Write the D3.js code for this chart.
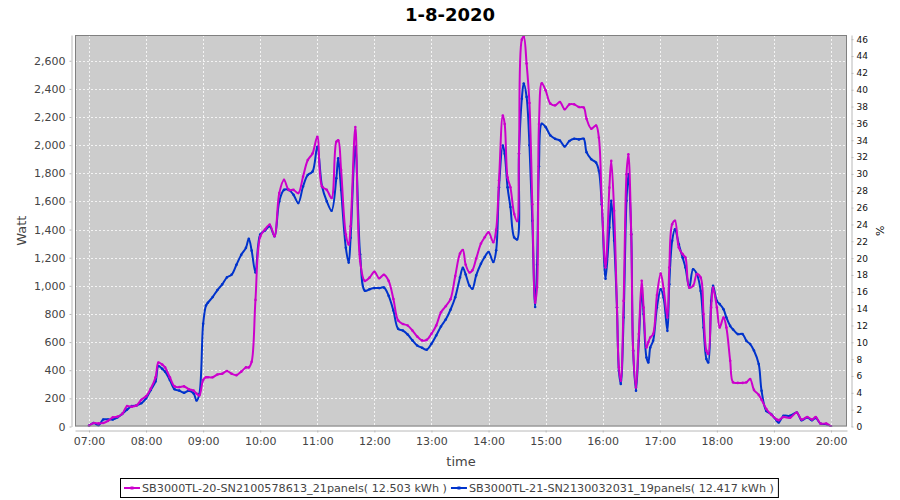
<!DOCTYPE html>
<html>
<head>
<meta charset="utf-8">
<script src="https://cdn.jsdelivr.net/npm/d3@7"></script>
<style>
  body { margin: 0; background: #fff; }
  text { font-family: "DejaVu Sans", sans-serif; }
</style>
</head>
<body>
<svg id="chart" width="900" height="500"></svg>
<script>
// ---- data ----
var chartTitle = "1-8-2020";
var seriesNames = ["SB3000TL-20-SN2100578613_21panels( 12.503 kWh )",
                   "SB3000TL-21-SN2130032031_19panels( 12.417 kWh )"];
var times = ["07:00","07:05","07:10","07:15","07:20","07:25","07:30","07:35","07:40","07:45","07:50","07:55",
  "08:00","08:05","08:10","08:13","08:17","08:20","08:25","08:30","08:35","08:40","08:45","08:50","08:53","08:56",
  "09:00","09:03","09:05","09:10","09:15","09:20","09:25","09:30","09:35","09:40","09:45","09:48","09:51","09:55",
  "10:00","10:05","10:10","10:15","10:20","10:25","10:30","10:35","10:40","10:45","10:50","10:55",
  "11:00","11:05","11:10","11:15","11:20","11:22","11:25","11:30","11:33","11:35","11:40","11:45","11:50","11:55",
  "12:00","12:05","12:10","12:15","12:20","12:25","12:30","12:35","12:40","12:45","12:50","12:55",
  "13:00","13:05","13:10","13:15","13:20","13:25","13:30","13:33","13:36","13:40","13:43","13:47","13:52","13:56",
  "14:00","14:05","14:08","14:11","14:15","14:17","14:20","14:23","14:27","14:30","14:32","14:35","14:37","14:40",
  "14:43","14:46","14:49","14:51","14:53","14:56",
  "15:00","15:05","15:10","15:15","15:20","15:25","15:30","15:35","15:40","15:43","15:48","15:53","15:56","15:59",
  "16:03","16:07","16:09","16:12","16:15","16:17","16:19","16:22","16:25","16:27","16:30","16:32","16:35","16:38",
  "16:41","16:43","16:46","16:48","16:50","16:53","16:57",
  "17:01","17:04","17:08","17:10","17:13","17:16","17:20","17:24","17:27","17:31","17:35","17:39","17:43","17:46",
  "17:49","17:51","17:54","17:56",
  "18:00","18:03","18:07","18:10","18:14","18:17","18:22","18:27","18:31","18:35","18:39","18:44","18:47","18:52","18:57",
  "19:03","19:05","19:10","19:17","19:24","19:29","19:35","19:40","19:44","19:49","19:55","20:00"];
var wattA = [5,25,22,25,40,65,70,90,145,140,150,190,
  215,270,350,455,440,420,350,285,280,285,265,255,235,220,
  330,350,350,350,370,375,395,375,365,390,420,420,460,900,
  1350,1400,1435,1353,1659,1753,1682,1682,1659,1776,1894,1941,
  2059,1706,1682,1624,2024,2035,1824,1365,1294,1424,2129,1176,1035,1059,
  1100,1054,1078,1035,906,753,729,718,682,640,612,616,
  659,718,812,855,905,1070,1230,1255,1150,1095,1110,1193,1300,1345,
  1380,1310,1400,1750,2210,2150,1770,1700,1510,1460,1940,2750,2770,2580,
  2300,1580,880,990,2150,2440,
  2390,2295,2283,2307,2255,2290,2290,2271,2267,2188,2117,2140,2053,1604,
  1130,1698,1888,1533,846,420,325,893,1793,1935,1367,538,278,657,
  1036,846,562,600,633,657,934,
  1088,981,775,1130,1438,1462,1272,1225,1201,988,1000,1083,1059,799,
  538,515,846,988,
  846,704,775,704,467,314,310,310,314,337,260,225,190,124,85,
  50,45,67,62,100,50,67,50,67,21,21,0];
var wattB = [5,25,8,50,50,50,65,90,120,145,150,165,
  200,260,320,430,410,390,330,265,255,240,255,235,185,230,
  730,860,880,920,970,1010,1060,1080,1150,1220,1270,1335,1250,1095,
  1365,1393,1424,1353,1600,1682,1682,1647,1588,1706,1788,1812,
  1988,1706,1600,1534,1765,1906,1682,1270,1165,1341,1988,1224,965,976,
  984,984,988,929,824,694,682,654,612,576,560,546,
  588,647,711,760,830,919,1060,1129,1080,1000,979,1074,1157,1205,
  1240,1169,1252,1700,1998,1938,1700,1560,1343,1330,1938,2330,2438,2343,
  2000,1462,850,1150,1850,2152,
  2129,2069,2045,2033,1990,2030,2045,2041,2045,1950,1900,1876,1817,1580,
  1050,1414,1604,1320,846,396,302,775,1604,1793,1367,538,254,609,
  964,799,491,455,562,609,846,
  976,917,680,1012,1320,1402,1296,1201,1130,988,1118,1083,964,704,
  480,455,893,1000,
  893,870,834,775,715,690,657,657,609,586,540,444,254,110,88,
  40,29,76,76,100,45,64,45,60,21,17,0];
var hourTicks = ["07:00","08:00","09:00","10:00","11:00","12:00","13:00","14:00",
                 "15:00","16:00","17:00","18:00","19:00","20:00"];
var wattTicks = [0,200,400,600,800,1000,1200,1400,1600,1800,2000,2200,2400,2600];
var pctTicks = d3.range(0, 47, 2);
var colors = ["#cc00cc", "#0033cc"];

// ---- layout ----
var svg = d3.select("#chart");
var plot = {left: 75, right: 847, top: 35, bottom: 426.5};

function toMin(s) { var p = s.split(":"); return (+p[0]) * 60 + (+p[1]); }

var x = d3.scaleLinear().domain([405.3, 1216.8]).range([plot.left, plot.right]);
var y = d3.scaleLinear().domain([0, 2783]).range([plot.bottom, plot.top]);
var yPct = d3.scaleLinear().domain([0, 46.5]).range([plot.bottom, plot.top]);

// plot background
svg.append("rect")
  .attr("x", plot.left).attr("y", plot.top)
  .attr("width", plot.right - plot.left).attr("height", plot.bottom - plot.top)
  .attr("fill", "#cccccc");

// grid
var grid = svg.append("g").attr("stroke", "#f4f4f4").attr("stroke-width", 1)
  .attr("stroke-dasharray", "2,2");
grid.selectAll("line.v").data(hourTicks).enter().append("line")
  .attr("x1", function(d){ return Math.round(x(toMin(d))) + 0.5; })
  .attr("x2", function(d){ return Math.round(x(toMin(d))) + 0.5; })
  .attr("y1", plot.top).attr("y2", plot.bottom);
grid.selectAll("line.h").data(wattTicks.slice(1)).enter().append("line")
  .attr("x1", plot.left).attr("x2", plot.right)
  .attr("y1", function(d){ return Math.round(y(d)) + 0.5; })
  .attr("y2", function(d){ return Math.round(y(d)) + 0.5; });

// lines
svg.append("clipPath").attr("id", "clip").append("rect")
  .attr("x", plot.left).attr("y", plot.top)
  .attr("width", plot.right - plot.left).attr("height", plot.bottom - plot.top);

var line = d3.line()
  .x(function(d){ return x(d.t); })
  .y(function(d){ return y(d.w); })
  .curve(d3.curveCatmullRom.alpha(0.5));

var series = [wattA, wattB].map(function(vals, i) {
  return {name: seriesNames[i], color: colors[i],
          pts: times.map(function(t, j){ return {t: toMin(t), w: vals[j]}; })};
});

// series 0 is drawn on top, like the original
var lines = svg.append("g").attr("clip-path", "url(#clip)");
series.slice().reverse().forEach(function(s) {
  lines.append("path")
    .attr("d", line(s.pts))
    .attr("fill", "none")
    .attr("stroke", s.color)
    .attr("stroke-width", 2)
    .attr("stroke-linejoin", "round");
  lines.selectAll(null).data(s.pts).enter().append("circle")
    .attr("cx", function(d){ return x(d.t); })
    .attr("cy", function(d){ return y(d.w); })
    .attr("r", 1.3)
    .attr("fill", s.color);
});

// plot outline
svg.append("rect")
  .attr("x", plot.left + 0.5).attr("y", plot.top + 0.5)
  .attr("width", plot.right - plot.left - 1).attr("height", plot.bottom - plot.top - 1)
  .attr("fill", "none").attr("stroke", "#808080");

// axes
function styleAxis(g, col) {
  g.select(".domain").attr("stroke", "#b8b8b8");
  g.selectAll(".tick line").attr("stroke", "#b8b8b8");
  g.selectAll(".tick text").attr("fill", col);
}

var xAxis = d3.axisBottom(x)
  .tickValues(hourTicks.map(toMin))
  .tickFormat(function(d, i){ return hourTicks[i]; })
  .tickSize(2).tickSizeOuter(0).tickPadding(5);
svg.append("g").attr("transform", "translate(0,430.5)")
  .call(xAxis).attr("font-size", 11).attr("font-family", null)
  .call(styleAxis, "#444");

var yAxis = d3.axisLeft(y)
  .tickValues(wattTicks).tickFormat(d3.format(","))
  .tickSize(2).tickSizeOuter(0).tickPadding(4);
svg.append("g").attr("transform", "translate(71.5,0)")
  .call(yAxis).attr("font-size", 11).attr("font-family", null)
  .call(styleAxis, "#444");

var yAxisR = d3.axisRight(yPct)
  .tickValues(pctTicks)
  .tickSize(2).tickSizeOuter(0).tickPadding(3);
svg.append("g").attr("transform", "translate(851.5,0)")
  .call(yAxisR).attr("font-size", 9).attr("font-family", null)
  .call(styleAxis, "#111");

// titles
svg.append("text").attr("x", 450).attr("y", 21).attr("text-anchor", "middle")
  .attr("font-size", 18).attr("font-weight", "bold").attr("fill", "#000")
  .text(chartTitle);
svg.append("text").attr("x", (plot.left + plot.right) / 2).attr("y", 466)
  .attr("text-anchor", "middle").attr("font-size", 13).attr("fill", "#444")
  .text("time");
svg.append("text").attr("transform", "translate(26," + ((plot.top + plot.bottom) / 2) + ") rotate(-90)")
  .attr("text-anchor", "middle").attr("font-size", 13).attr("fill", "#444")
  .text("Watt");
svg.append("text").attr("transform", "translate(884," + ((plot.top + plot.bottom) / 2) + ") rotate(-90)")
  .attr("text-anchor", "middle").attr("font-size", 11).attr("fill", "#111")
  .text("%");

// legend
var legBox = svg.append("rect").attr("fill", "#fff").attr("stroke", "#000");
var legend = svg.append("g");
var lx = 0;
series.forEach(function(s) {
  var g = legend.append("g").attr("transform", "translate(" + lx + ",0)");
  g.append("line").attr("x1", 0).attr("x2", 16).attr("y1", 0).attr("y2", 0)
    .attr("stroke", s.color).attr("stroke-width", 2);
  g.append("rect").attr("x", 6.5).attr("y", -1.5).attr("width", 3).attr("height", 3).attr("fill", s.color);
  var t = g.append("text").attr("x", 18).attr("y", 4).attr("font-size", 11.2).attr("fill", "#444").text(s.name);
  lx += 18 + t.node().getComputedTextLength() + 4;
});
var legW = lx + 4;
var legX = Math.round(450 - legW / 2);
legend.attr("transform", "translate(" + (legX + 3) + ",488)");
legBox.attr("x", legX - 0.5).attr("y", 478.5).attr("width", legW).attr("height", 19);
</script>
</body>
</html>
